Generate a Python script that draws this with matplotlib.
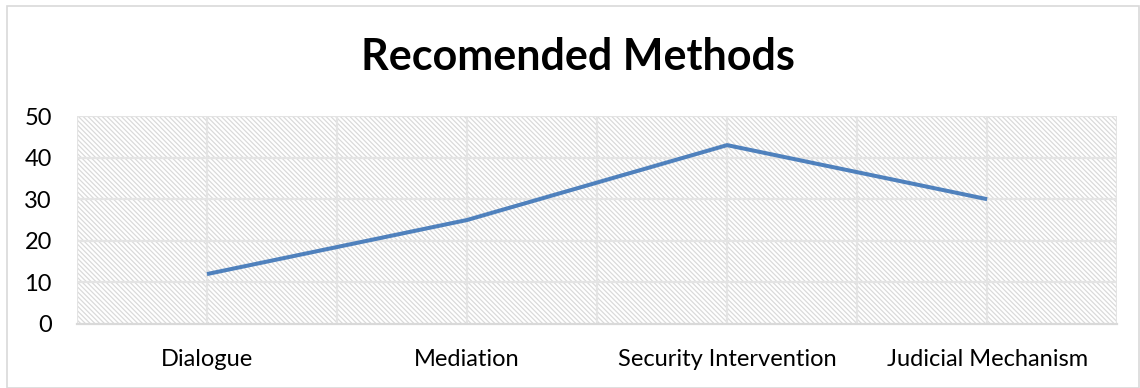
import matplotlib
matplotlib.use("Agg")
import matplotlib.pyplot as plt
from matplotlib.patches import Rectangle

categories = ["Dialogue", "Mediation", "Security Intervention", "Judicial Mechanism"]
values = [12, 25, 43, 30]
y_ticks = [0, 10, 20, 30, 40, 50]
title = "Recomended Methods"

plt.rcParams["font.family"] = ["Lato", "DejaVu Sans"]
plt.rcParams["hatch.color"] = "#dadada"
plt.rcParams["hatch.linewidth"] = 0.9

fig = plt.figure(figsize=(11.4, 3.88), dpi=100)
fig.patches.append(Rectangle((0.006, 0.0), 0.993, 0.985, transform=fig.transFigure,
                             fill=False, edgecolor="#d9d9d9", linewidth=1.2))

ax = fig.add_axes([0.0675, 0.165, 0.9125, 0.536])
ax.patch.set_facecolor("white")
ax.patch.set_hatch("\\" * 7)
ax.patch.set_edgecolor("#dadada")
ax.patch.set_linewidth(0)

x = list(range(len(categories)))
ax.set_xlim(-0.5, len(categories) - 0.5)
ax.set_ylim(0, 50)

# light grid: horizontal at each major tick, vertical at centres and boundaries
for yv in y_ticks[1:]:
    ax.axhline(yv, color="#e4e4e4", linewidth=1.6, zorder=1)
for i in range(2 * len(categories) + 1):
    ax.axvline(-0.5 + 0.5 * i, color="#e4e4e4", linewidth=1.6, zorder=1)

ax.plot(x, values, color="#4f81bd", linewidth=2.9, solid_capstyle="butt", zorder=3)

for s in ["left", "right", "top"]:
    ax.spines[s].set_visible(False)
ax.spines["bottom"].set_color("#d9d9d9")
ax.spines["bottom"].set_linewidth(1.6)

ax.set_xticks(x)
ax.set_xticklabels(categories, fontsize=17)
ax.set_yticks(y_ticks)
ax.set_yticklabels([str(v) for v in y_ticks], fontsize=17)
ax.tick_params(axis="both", length=0, colors="black")
ax.tick_params(axis="x", pad=18)
ax.tick_params(axis="y", pad=18)

fig.text(0.507, 0.853, title, ha="center", va="center", fontsize=31, fontweight="bold")

fig.savefig("out.png", dpi=100)
